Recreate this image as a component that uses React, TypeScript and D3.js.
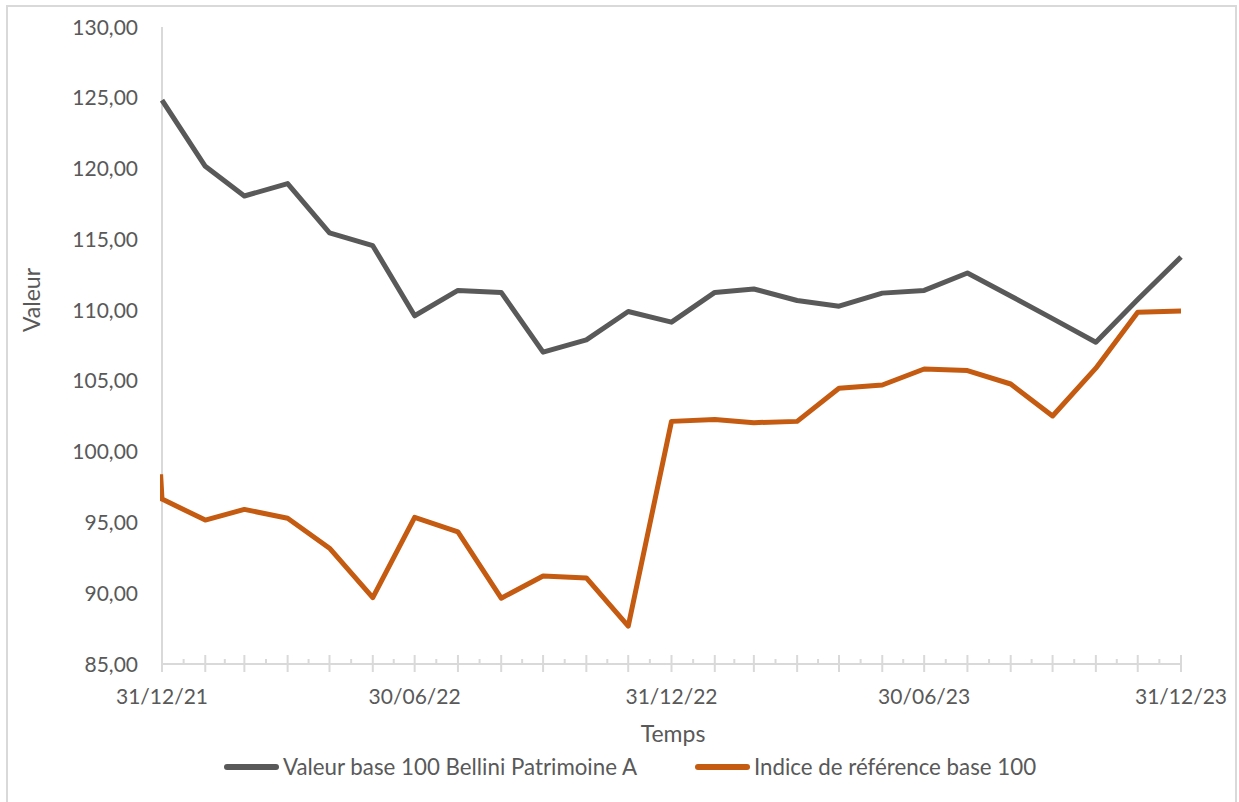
import React from "react";
import * as d3 from "d3";

const dates: string[] = [
  "2021-12-31", "2022-01-31", "2022-02-28", "2022-03-31", "2022-04-30", "2022-05-31",
  "2022-06-30", "2022-07-31", "2022-08-31", "2022-09-30", "2022-10-31", "2022-11-30",
  "2022-12-31", "2023-01-31", "2023-02-28", "2023-03-31", "2023-04-30", "2023-05-31",
  "2023-06-30", "2023-07-31", "2023-08-31", "2023-09-30", "2023-10-31", "2023-11-30",
  "2023-12-31",
];

const bellini: number[] = [
  124.83, 120.16, 118.06, 118.94, 115.45, 114.55, 109.6, 111.39, 111.25, 107.03, 107.9, 109.9,
  109.15, 111.25, 111.49, 110.68, 110.28, 111.2, 111.39, 112.62, 111.0, 109.4, 107.73, 110.75,
  113.75,
];

const indiceDates: string[] = ["2021-12-30", ...dates];
const indice: number[] = [
  98.4, 96.65, 95.17, 95.92, 95.3, 93.18, 89.69, 95.36, 94.34, 89.65, 91.22, 91.08, 87.67,
  102.14, 102.28, 102.05, 102.14, 104.48, 104.71, 105.84, 105.73, 104.78, 102.52, 105.9, 109.85,
  109.93,
];

const xTickLabels: string[] = ["2021-12-31", "2022-06-30", "2022-12-31", "2023-06-30", "2023-12-31"];
const yTicks: number[] = [85, 90, 95, 100, 105, 110, 115, 120, 125, 130];

const seriesNames: string[] = ["Valeur base 100 Bellini Patrimoine A", "Indice de référence base 100"];
const seriesColors: string[] = ["#595959", "#c55a11"];

const W = 1239;
const H = 802;
const FONT = "Lato, 'Open Sans', sans-serif";
const TEXT = "#595959";
const AXIS = "#d9d9d9";

const parse = d3.utcParse("%Y-%m-%d");
const fmtDate = d3.utcFormat("%d/%m/%y");
const locale = d3.formatLocale({ decimal: ",", thousands: " ", grouping: [3], currency: ["", "€"] });
const fmtNum = locale.format(".2f");

export default function App() {
  const left = 162;
  const right = 1181;
  const top = 27;
  const bottom = 664;

  const dateObjs = dates.map((d) => parse(d) as Date);
  const x = d3.scaleUtc().domain([dateObjs[0], dateObjs[dateObjs.length - 1]]).range([left, right]);
  const y = d3.scaleLinear().domain([85, 130]).range([bottom, top]);

  const line = d3
    .line<[Date, number]>()
    .x((d) => x(d[0]))
    .y((d) => y(d[1]))
    .curve(d3.curveLinear);

  const s1: [Date, number][] = dateObjs.map((d, i) => [d, bellini[i]]);
  const s2: [Date, number][] = indiceDates.map((d, i) => [parse(d) as Date, indice[i]]);

  const minor: Date[] = [];
  for (let i = 0; i < dateObjs.length - 1; i++) {
    minor.push(new Date((dateObjs[i].getTime() + dateObjs[i + 1].getTime()) / 2));
  }

  const legendY = 767;

  return (
    <svg
      width={W}
      height={H}
      style={{ position: "absolute", left: 0, top: 0, display: "block", background: "#fff" }}
      fontFamily={FONT}
    >
      <defs>
        <clipPath id="plotclip">
          <rect x={left - 2} y={top - 10} width={right - left + 4} height={bottom - top + 20} />
        </clipPath>
      </defs>
      <rect x={7} y={6} width={1229} height={800} fill="#fff" stroke={AXIS} strokeWidth={2} />

      {/* y axis line */}
      <line x1={left} x2={left} y1={top} y2={bottom} stroke={AXIS} strokeWidth={2} />
      {/* y tick labels */}
      {yTicks.map((t) => (
        <text key={t} x={138} y={y(t)} dy="0.36em" textAnchor="end" fontSize={21} fill={TEXT}>
          {fmtNum(t)}
        </text>
      ))}

      {/* x axis */}
      <line x1={left} x2={right} y1={bottom} y2={bottom} stroke={AXIS} strokeWidth={2} />
      {dateObjs.map((d, i) => (
        <line key={"M" + i} x1={x(d)} x2={x(d)} y1={bottom - 9} y2={bottom + 8} stroke={AXIS} strokeWidth={2} />
      ))}
      {minor.map((d, i) => (
        <line key={"m" + i} x1={x(d)} x2={x(d)} y1={bottom - 5} y2={bottom} stroke={AXIS} strokeWidth={2} />
      ))}
      {xTickLabels.map((s) => {
        const d = parse(s) as Date;
        return (
          <text key={s} x={x(d)} y={704} textAnchor="middle" fontSize={21} fill={TEXT}>
            {fmtDate(d)}
          </text>
        );
      })}

      {/* lines */}
      <g clipPath="url(#plotclip)">
        <path d={line(s1) || ""} fill="none" stroke={seriesColors[0]} strokeWidth={5} strokeLinejoin="round" />
        <path d={line(s2) || ""} fill="none" stroke={seriesColors[1]} strokeWidth={5} strokeLinejoin="round" />
      </g>

      {/* axis titles */}
      <text x={673} y={742} textAnchor="middle" fontSize={23} fill={TEXT}>
        Temps
      </text>
      <text transform={`translate(40,300) rotate(-90)`} textAnchor="middle" fontSize={23} fill={TEXT}>
        Valeur
      </text>

      {/* legend */}
      <line x1={227} x2={276} y1={legendY} y2={legendY} stroke={seriesColors[0]} strokeWidth={6} strokeLinecap="round" />
      <text x={283} y={legendY} dy="0.36em" fontSize={22.3} fill={TEXT}>
        {seriesNames[0]}
      </text>
      <line x1={698} x2={747} y1={legendY} y2={legendY} stroke={seriesColors[1]} strokeWidth={6} strokeLinecap="round" />
      <text x={754} y={legendY} dy="0.36em" fontSize={22.3} fill={TEXT}>
        {seriesNames[1]}
      </text>
    </svg>
  );
}
